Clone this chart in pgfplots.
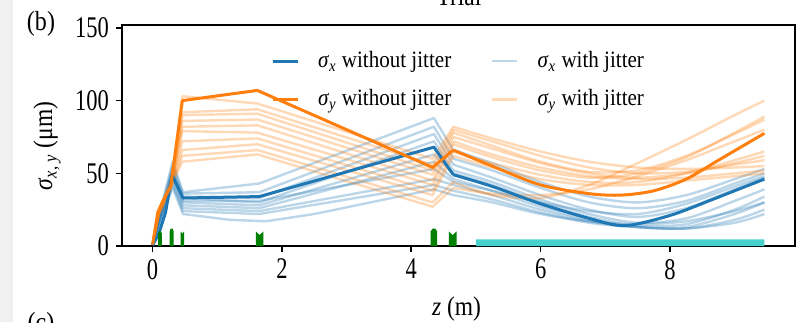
\documentclass[border=0pt]{standalone}
\usepackage{fontspec}
\setmainfont{Liberation Serif}
\newfontfamily\tickfont{Liberation Serif}[FakeStretch=0.75]
\newfontfamily\legfont{Liberation Serif}[FakeStretch=0.9]
\newfontfamily\labfont{Liberation Serif}[FakeStretch=0.87]
\usepackage{pgfplots}
\pgfplotsset{compat=1.18}
\definecolor{c0}{HTML}{1F77B4}
\definecolor{c1}{HTML}{FF7F0E}
\definecolor{qg}{HTML}{008000}
\definecolor{turq}{HTML}{48D1CC}
\definecolor{strip}{HTML}{F0F0F0}
\pgfplotsset{
  lx/.style={c0, opacity=0.3, line width=1.2pt, line join=round, forget plot},
  ly/.style={c1, opacity=0.3, line width=1.2pt, line join=round, forget plot},
  tx/.style={c0, line width=1.5pt, line join=round, forget plot},
  ty/.style={c1, line width=1.5pt, line join=round, forget plot},
  q/.style={fill=qg, draw=none, forget plot},
}
\begin{document}
\begin{tikzpicture}
\useasboundingbox (-61pt,-38pt) rectangle (340.5pt,123pt);
\fill[strip] (-61pt,-38pt) rectangle (-54.5pt,123pt);
\begin{axis}[
  name=ax, at={(0pt,0pt)}, anchor=south west,
  scale only axis, width=336.5pt, height=110.5pt,
  xmin=-0.473, xmax=9.933, ymin=0, ymax=152,
  xtick={0,2,4,6,8}, ytick={0,50,100,150},
  xtick pos=left, ytick pos=left,
  tick align=outside, major tick length=3pt,
  axis line style={line width=0.8pt},
  every tick/.style={black, line width=0.8pt},
  /pgf/number format/assume math mode=true,
  tick label style={font=\tickfont\fontsize{15}{16}\selectfont},
  label style={font=\labfont\fontsize{13.5}{15}\selectfont},
  xlabel={\textit{z} (m)},
  ylabel={\textit{σ}\textsubscript{\textit{x}, \textit{y}} (μm)},
  xlabel style={at={(axis description cs:0.497,-0.285)}, anchor=center},
  ylabel style={at={(axis description cs:-0.1114,0.452)}, anchor=center},
  legend style={draw=none, fill=none, at={(0.5015,0.918)}, anchor=north,
    font=\legfont\fontsize{11.7}{13}\selectfont, row sep=5.5pt,
    /tikz/every even column/.append style={column sep=18pt},
    /tikz/every odd column/.append style={column sep=7.5pt},
    nodes={inner sep=2pt}},
  legend columns=2,
  legend cell align=left,
  legend image code/.code={\draw[#1] (0pt,0pt) -- (12.5pt,0pt);},
]
\addlegendimage{c0, line width=1.5pt}
\addlegendentry{\textit{σ}\textsubscript{\textit{x}} without jitter}
\addlegendimage{c0, opacity=0.3, line width=1.2pt}
\addlegendentry{\textit{σ}\textsubscript{\textit{x}} with jitter}
\addlegendimage{c1, line width=1.5pt}
\addlegendentry{\textit{σ}\textsubscript{\textit{y}} without jitter}
\addlegendimage{c1, opacity=0.3, line width=1.2pt}
\addlegendentry{\textit{σ}\textsubscript{\textit{y}} with jitter}

% sigma_x with jitter: beamline part
\addplot[lx] coordinates {(0,1)(0.1,21)(0.31,58)(0.47,37)(1.65,43)(4.35,88)(4.65,66)};
\addplot[lx] coordinates {(0,1)(0.1,20)(0.31,55)(0.47,36)(1.65,37)(4.35,82)(4.65,60)};
\addplot[lx] coordinates {(0,1)(0.1,18)(0.31,53)(0.47,34)(1.65,33)(4.35,77)(4.65,56)};
\addplot[lx] coordinates {(0,1)(0.1,19)(0.31,51)(0.47,33)(1.65,30)(4.35,72)(4.65,52)};
\addplot[lx] coordinates {(0,1)(0.1,16)(0.31,48)(0.47,30)(1.65,28)(4.35,63)(4.65,50)};
\addplot[lx] coordinates {(0,1)(0.1,17)(0.31,46)(0.47,28)(1.65,26)(4.35,58)(4.65,46)};
\addplot[lx] coordinates {(0,1)(0.1,15)(0.31,44)(0.47,26)(1.65,24)(4.35,46)(4.65,42)};
\addplot[lx] coordinates {(0,1)(0.1,16)(0.31,42)(0.47,24)(1.65,22)(4.35,42)(4.65,38)};
\addplot[lx] coordinates {(0,1)(0.1,14)(0.31,40)(0.47,22)(1.2,18)(1.75,17)(2.5,22)(4.35,39)(4.65,35)};
\addplot[lx] coordinates {(0,1)(0.1,17)(0.31,50)(0.47,31)(1.65,31)(4.35,53)(4.65,44)};
% sigma_x with jitter: drift part
\addplot[lx, smooth] coordinates {(4.65,66)(5.25,57)(6.0,44)(6.75,34)(7.5,30)(8.25,35)(9.0,46)(9.46,53)};
\addplot[lx, smooth] coordinates {(4.65,60)(5.25,52)(6.0,40)(6.75,30)(7.5,26)(8.25,31)(9.0,43)(9.46,50)};
\addplot[lx, smooth] coordinates {(4.65,56)(5.25,47)(6.0,35)(6.75,25)(7.5,20)(8.25,26)(9.0,39)(9.46,47)};
\addplot[lx, smooth] coordinates {(4.65,52)(5.25,44)(6.0,32)(6.75,22)(7.5,16)(8.25,19)(9.0,31)(9.46,39)};
\addplot[lx, smooth] coordinates {(4.65,50)(5.25,42)(6.0,30)(6.75,20)(7.5,14)(8.25,15)(9.0,25)(9.46,34)};
\addplot[lx, smooth] coordinates {(4.65,46)(5.25,38)(6.0,27)(6.75,18)(7.5,13)(8.25,13)(9.0,22)(9.46,30)};
\addplot[lx, smooth] coordinates {(4.65,42)(5.25,35)(6.0,25)(6.75,17)(7.5,13)(8.25,12)(9.0,18)(9.46,25)};
\addplot[lx, smooth] coordinates {(4.65,38)(5.25,32)(6.0,23)(6.75,16)(7.5,13)(8.25,12)(9.0,16)(9.46,22)};
\addplot[lx, smooth] coordinates {(4.65,35)(5.25,30)(6.0,22)(6.75,17)(7.5,15)(8.25,17)(9.0,24)(9.46,30)};
\addplot[lx, smooth] coordinates {(4.65,44)(5.25,38)(6.0,30)(6.75,24)(7.5,22)(8.25,29)(9.0,41)(9.46,48)};

% sigma_y with jitter: beamline part
\addplot[ly] coordinates {(0,1)(0.1,24)(0.28,42)(0.46,103)(1.62,98)(4.33,60)(4.65,82)};
\addplot[ly] coordinates {(0,1)(0.1,26)(0.28,43)(0.46,92)(1.62,94)(4.33,56)(4.65,80)};
\addplot[ly] coordinates {(0,1)(0.1,23)(0.28,41)(0.46,90)(1.62,91)(4.33,52)(4.65,78)};
\addplot[ly] coordinates {(0,1)(0.1,25)(0.28,42)(0.46,86)(1.62,87)(4.33,49)(4.65,75)};
\addplot[ly] coordinates {(0,1)(0.1,22)(0.28,40)(0.46,82)(1.62,83)(4.33,45)(4.65,72)};
\addplot[ly] coordinates {(0,1)(0.1,24)(0.28,41)(0.46,79)(1.62,78)(4.33,42)(4.65,70)};
\addplot[ly] coordinates {(0,1)(0.1,23)(0.28,40)(0.46,72)(1.62,74)(4.33,38)(4.65,65)};
\addplot[ly] coordinates {(0,1)(0.1,25)(0.28,42)(0.46,66)(1.62,70)(4.33,35)(4.65,62)};
\addplot[ly] coordinates {(0,1)(0.1,22)(0.28,40)(0.46,62)(1.62,66)(4.33,30)(4.65,44)};
\addplot[ly] coordinates {(0,1)(0.1,24)(0.28,41)(0.46,58)(1.62,63)(4.33,27)(4.65,40)};
% sigma_y with jitter: drift part
\addplot[ly, smooth] coordinates {(4.65,82)(5.25,74)(6.0,65)(6.75,58)(7.5,54)(8.25,53)(9.0,54)(9.46,55)};
\addplot[ly, smooth] coordinates {(4.65,80)(5.25,72)(6.0,62)(6.75,54)(7.5,50)(8.25,51)(9.0,56)(9.46,59)};
\addplot[ly, smooth] coordinates {(4.65,78)(5.25,69)(6.0,58)(6.75,51)(7.5,52)(8.25,62)(9.0,77)(9.46,87)};
\addplot[ly, smooth] coordinates {(4.65,75)(5.25,67)(6.0,57)(6.75,50)(7.5,47)(8.25,50)(9.0,57)(9.46,62)};
\addplot[ly, smooth] coordinates {(4.65,72)(5.25,63)(6.0,54)(6.75,48)(7.5,46)(8.25,47)(9.0,50)(9.46,52)};
\addplot[ly, smooth] coordinates {(4.65,70)(5.25,61)(6.0,52)(6.75,47)(7.5,50)(8.25,61)(9.0,78)(9.46,89)};
\addplot[ly, smooth] coordinates {(4.65,65)(5.25,57)(6.0,49)(6.75,44)(7.5,44)(8.25,50)(9.0,59)(9.46,65)};
\addplot[ly, smooth] coordinates {(4.65,62)(5.25,54)(6.0,46)(6.75,42)(7.5,42)(8.25,45)(9.0,48)(9.46,50)};
\addplot[ly, smooth] coordinates {(4.65,44)(5.25,35)(6.0,33)(6.75,42)(7.5,57)(8.25,73)(9.0,90)(9.46,100)};
\addplot[ly, smooth] coordinates {(4.65,40)(5.25,36)(6.0,35)(6.75,39)(7.5,48)(8.25,59)(9.0,72)(9.46,80)};

% without jitter
\addplot[tx] coordinates {(0,0.5)(0.1,9)(0.2,23)(0.3,49)(0.47,33)(1.65,34)(4.35,68)(4.65,49)};
\addplot[tx, smooth] coordinates {(4.65,49)(5.25,41)(6.0,29)(6.75,19)(7.3,14)(8.0,21)(8.6,31)(9.0,38)(9.46,46)};
\addplot[ty] coordinates {(0,1)(0.08,23)(0.15,30)(0.28,41)(0.46,100)(1.62,107)(4.33,54)(4.65,66)};
\addplot[ty, smooth] coordinates {(4.65,66)(5.25,55)(6.0,42)(6.75,36)(7.25,35)(7.75,38)(8.25,46)(8.75,59)(9.46,77.5)};

% quadrupoles
\addplot[q] coordinates {(0.085,0)(0.085,8.5)(0.1,10)(0.13,10)(0.145,8.5)(0.145,0)} \closedcycle;
\addplot[q] coordinates {(0.265,0)(0.265,10)(0.28,12)(0.31,12)(0.325,10)(0.325,0)} \closedcycle;
\addplot[q] coordinates {(0.435,0)(0.435,10)(0.461,8.5)(0.487,10)(0.487,0)} \closedcycle;
\addplot[q] coordinates {(1.598,0)(1.598,10)(1.655,7.5)(1.712,10)(1.712,0)} \closedcycle;
\addplot[q] coordinates {(4.30,0)(4.30,10)(4.33,12)(4.37,12)(4.40,10)(4.40,0)} \closedcycle;
\addplot[q] coordinates {(4.58,0)(4.58,10)(4.64,7.5)(4.70,10)(4.70,0)} \closedcycle;
% solenoid / undulator region
\addplot[fill=turq, draw=none, forget plot] coordinates {(5.0,0)(5.0,4.5)(9.46,4.5)(9.46,0)} \closedcycle;
\end{axis}
\node[anchor=base, font=\labfont\fontsize{13.5}{15}\selectfont] at (168.5pt,120pt) {Trial};
\node[font=\labfont\fontsize{13.8}{15}\selectfont] at (-40.5pt,111pt) {(b)};
\node[font=\labfont\fontsize{13.8}{15}\selectfont] at (-40.5pt,-39.5pt) {(c)};
\end{tikzpicture}
\end{document}
